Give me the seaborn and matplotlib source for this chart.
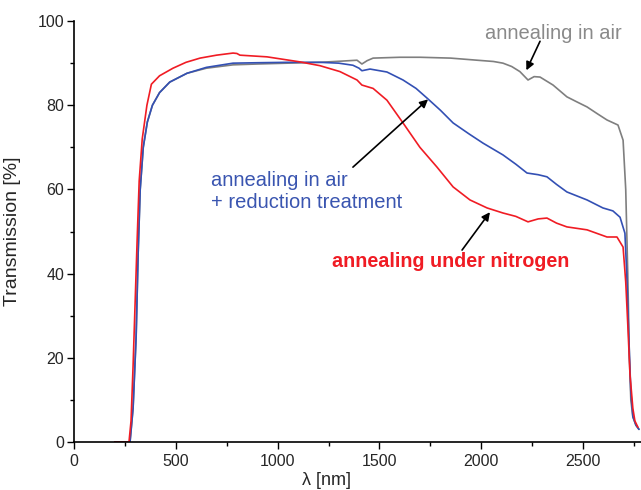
import pandas as pd
import matplotlib
matplotlib.use('Agg')
import matplotlib.pyplot as plt
import seaborn as sns

# -----------------------------
# Data (wavelength in nm, transmission in %)
# -----------------------------
air_wl = [200, 275, 290, 305, 315, 325, 340, 360, 385, 420, 470, 555, 650, 781,
          900, 1050, 1208, 1320, 1390, 1414, 1440, 1469, 1600, 1700, 1850, 1980,
          2060, 2107, 2150, 2190, 2230, 2260, 2289, 2353, 2421, 2470, 2520, 2570,
          2618, 2672, 2697, 2710, 2720, 2728, 2735, 2745, 2760, 2775]
air_T = [0, 0, 8, 25, 45, 60, 70, 76, 80, 83, 85.5, 87.6, 88.8, 89.6,
         89.8, 90, 90.2, 90.5, 90.7, 89.8, 90.6, 91.2, 91.4, 91.4, 91.2, 90.7,
         90.4, 90, 89.2, 88, 86, 86.8, 86.7, 84.8, 82, 80.8, 79.6, 78,
         76.5, 75.3, 71.7, 60, 40, 20, 10, 6, 4, 3]

red_wl = [200, 275, 290, 305, 315, 325, 340, 360, 385, 420, 470, 555, 650, 781,
          900, 1050, 1208, 1300, 1370, 1400, 1414, 1454, 1537, 1616, 1680, 1734,
          1800, 1862, 1940, 2009, 2107, 2170, 2225, 2280, 2323, 2370, 2421, 2520,
          2598, 2647, 2682, 2706, 2715, 2725, 2735, 2745, 2760, 2775]
red_T = [0, 0, 8, 25, 45, 60, 70, 76, 80, 83, 85.5, 87.6, 89, 90,
         90.1, 90.2, 90.2, 90, 89.5, 88.8, 88.2, 88.6, 87.9, 86, 84, 81.7,
         78.8, 75.8, 73.2, 71, 68.2, 66, 63.9, 63.5, 63, 61.2, 59.4, 57.5,
         55.6, 54.9, 53.4, 49.6, 40, 25, 12, 6, 4, 3]

n2_wl = [200, 270, 280, 290, 300, 310, 320, 335, 358, 380, 420, 486, 550, 619,
         700, 781, 800, 815, 948, 1110, 1208, 1306, 1390, 1414, 1469, 1537, 1616,
         1699, 1783, 1862, 1945, 2029, 2107, 2170, 2230, 2280, 2323, 2370, 2421,
         2520, 2618, 2667, 2697, 2710, 2720, 2731, 2745, 2755, 2770]
n2_T = [0, 0, 5, 18, 33, 48, 62, 72, 80, 85, 87, 88.8, 90.2, 91.2,
        91.9, 92.4, 92.3, 91.9, 91.5, 90.3, 89.4, 88, 86, 84.8, 84, 81.2, 75.8,
        70, 65.3, 60.6, 57.5, 55.6, 54.4, 53.6, 52.3, 53, 53.2, 52, 51.1,
        50.4, 48.7, 48.7, 46.3, 38, 28, 16, 8, 5, 3.5]

series = ['air', 'air + reduction', 'nitrogen']
colors = {'air': '#7f7f7f', 'air + reduction': '#3350b4', 'nitrogen': '#f01c24'}

df = pd.concat([
    pd.DataFrame({'wl': air_wl, 'T': air_T, 'sample': 'air'}),
    pd.DataFrame({'wl': red_wl, 'T': red_T, 'sample': 'air + reduction'}),
    pd.DataFrame({'wl': n2_wl, 'T': n2_T, 'sample': 'nitrogen'}),
])

# -----------------------------
# Plot
# -----------------------------
sns.set_style('ticks')
plt.rcParams['font.family'] = ['Liberation Sans', 'DejaVu Sans']

fig = plt.figure(figsize=(6.41, 4.9), dpi=100)
ax = fig.add_axes([0.1155, 0.098, 0.8845, 0.859])

sns.lineplot(data=df, x='wl', y='T', hue='sample', hue_order=series,
             palette=colors, sort=False, linewidth=1.2, legend=False, ax=ax)

ax.set_xlim(0, 2785)
ax.set_ylim(0, 100)
ax.set_xticks([0, 500, 1000, 1500, 2000, 2500])
ax.set_xticks(range(250, 2800, 500), minor=True)
ax.set_yticks([0, 20, 40, 60, 80, 100])
ax.set_yticks([10, 30, 50, 70, 90], minor=True)
ax.tick_params(which='major', length=5, width=1, labelsize=11.5, color='black')
ax.tick_params(which='minor', length=3, width=1, color='black')
ax.tick_params(axis='x', pad=4)
ax.tick_params(axis='y', pad=2)
for s in ['top', 'right']:
    ax.spines[s].set_visible(False)
for s in ['left', 'bottom']:
    ax.spines[s].set_linewidth(1.2)
    ax.spines[s].set_color('black')

ax.set_ylabel('Transmission [%]', fontsize=14)
ax.set_xlabel('λ [nm]', fontsize=13)
ax.yaxis.set_label_coords(-0.093, 0.5)
ax.xaxis.set_label_coords(0.446, -0.072)

arrow = dict(arrowstyle='-|>', color='black', lw=1.2, mutation_scale=12,
             shrinkA=0, shrinkB=0)
ax.annotate('', xy=(2222, 88.3), xytext=(2289, 95.2), arrowprops=arrow)
ax.annotate('', xy=(1739, 81.4), xytext=(1370, 65.3), arrowprops=arrow)
ax.annotate('', xy=(2043, 54.6), xytext=(1906, 45.6), arrowprops=arrow)

ax.text(2019, 97.1, 'annealing in air', color='#8a8a8a', fontsize=14.5,
        va='center', ha='left')
ax.text(673, 59.6, 'annealing in air\n+ reduction treatment', color='#3a55b0',
        fontsize=14.5, va='center', ha='left')
ax.text(1267, 42.8, 'annealing under nitrogen', color='#f01c24', fontsize=14.2,
        fontweight='bold', va='center', ha='left')

fig.savefig('out.png', dpi=100)
